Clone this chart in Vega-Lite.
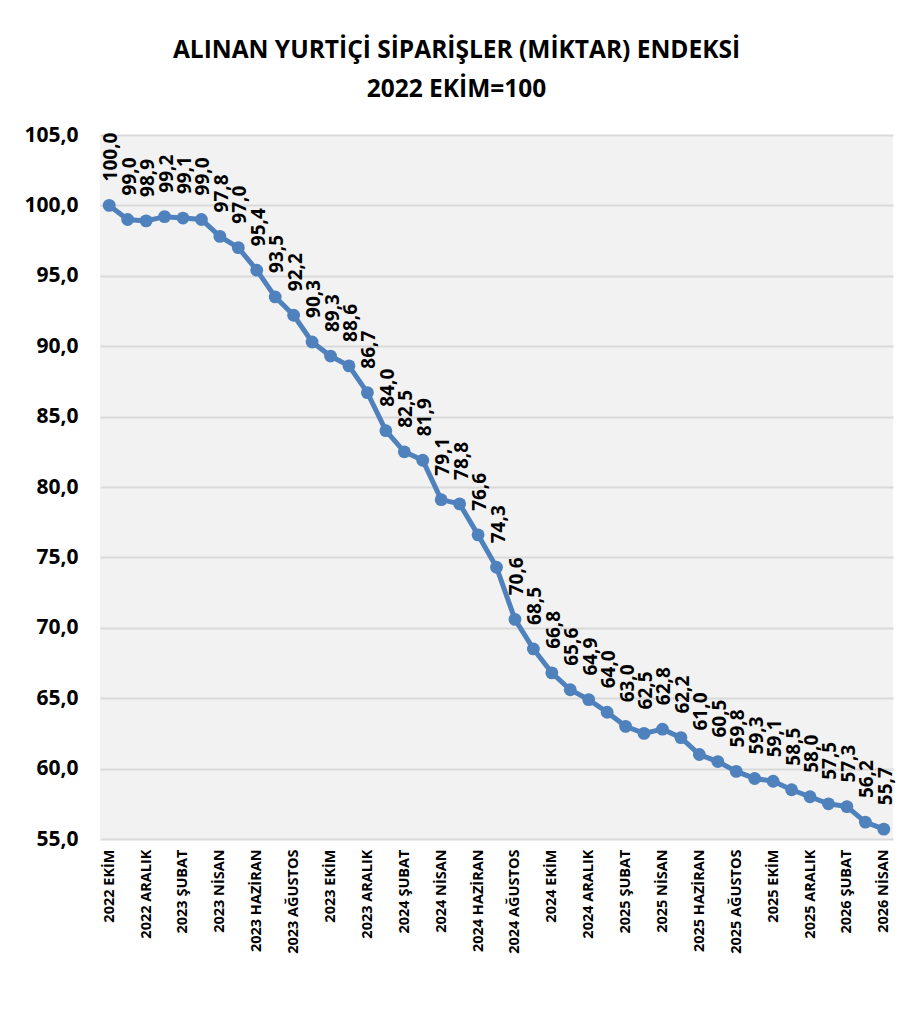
{
  "$schema": "https://vega.github.io/schema/vega-lite/v6.json",
  "autosize": {"type": "none"},
  "padding": {"left": 100, "top": 135, "right": 22, "bottom": 172},
  "width": 793,
  "height": 704,
  "background": "white",
  "title": {
    "text": ["ALINAN YURTİÇİ SİPARİŞLER (MİKTAR) ENDEKSİ", "2022 EKİM=100"],
    "anchor": "middle",
    "frame": "group",
    "dx": -40,
    "offset": 22,
    "font": "Open Sans",
    "fontSize": 24.5,
    "fontWeight": "bold",
    "color": "black",
    "lineHeight": 39
  },
  "config": {
    "locale": {"number": {"decimal": ",", "thousands": ".", "grouping": [3], "currency": ["", " TL"]}},
    "view": {"fill": "#f2f2f2", "stroke": null}
  },
  "data": {"values": [
    {"ay": "2022 EKİM", "v": 100.0},
    {"ay": "2022 KASIM", "v": 99.0},
    {"ay": "2022 ARALIK", "v": 98.9},
    {"ay": "2023 OCAK", "v": 99.2},
    {"ay": "2023 ŞUBAT", "v": 99.1},
    {"ay": "2023 MART", "v": 99.0},
    {"ay": "2023 NİSAN", "v": 97.8},
    {"ay": "2023 MAYIS", "v": 97.0},
    {"ay": "2023 HAZİRAN", "v": 95.4},
    {"ay": "2023 TEMMUZ", "v": 93.5},
    {"ay": "2023 AĞUSTOS", "v": 92.2},
    {"ay": "2023 EYLÜL", "v": 90.3},
    {"ay": "2023 EKİM", "v": 89.3},
    {"ay": "2023 KASIM", "v": 88.6},
    {"ay": "2023 ARALIK", "v": 86.7},
    {"ay": "2024 OCAK", "v": 84.0},
    {"ay": "2024 ŞUBAT", "v": 82.5},
    {"ay": "2024 MART", "v": 81.9},
    {"ay": "2024 NİSAN", "v": 79.1},
    {"ay": "2024 MAYIS", "v": 78.8},
    {"ay": "2024 HAZİRAN", "v": 76.6},
    {"ay": "2024 TEMMUZ", "v": 74.3},
    {"ay": "2024 AĞUSTOS", "v": 70.6},
    {"ay": "2024 EYLÜL", "v": 68.5},
    {"ay": "2024 EKİM", "v": 66.8},
    {"ay": "2024 KASIM", "v": 65.6},
    {"ay": "2024 ARALIK", "v": 64.9},
    {"ay": "2025 OCAK", "v": 64.0},
    {"ay": "2025 ŞUBAT", "v": 63.0},
    {"ay": "2025 MART", "v": 62.5},
    {"ay": "2025 NİSAN", "v": 62.8},
    {"ay": "2025 MAYIS", "v": 62.2},
    {"ay": "2025 HAZİRAN", "v": 61.0},
    {"ay": "2025 TEMMUZ", "v": 60.5},
    {"ay": "2025 AĞUSTOS", "v": 59.8},
    {"ay": "2025 EYLÜL", "v": 59.3},
    {"ay": "2025 EKİM", "v": 59.1},
    {"ay": "2025 KASIM", "v": 58.5},
    {"ay": "2025 ARALIK", "v": 58.0},
    {"ay": "2026 OCAK", "v": 57.5},
    {"ay": "2026 ŞUBAT", "v": 57.3},
    {"ay": "2026 MART", "v": 56.2},
    {"ay": "2026 NİSAN", "v": 55.7}
  ]},
  "encoding": {
    "x": {
      "field": "ay", "type": "ordinal", "sort": null,
      "scale": {"type": "point", "padding": 0.5},
      "axis": {
        "title": null, "domain": false, "ticks": false,
        "labelAngle": 270, "labelAlign": "right", "labelBaseline": "middle",
        "labelPadding": 10, "labelFont": "Open Sans", "labelFontSize": 14.5,
        "labelFontWeight": "bold", "labelColor": "black",
        "values": ["2022 EKİM", "2022 ARALIK", "2023 ŞUBAT", "2023 NİSAN", "2023 HAZİRAN", "2023 AĞUSTOS", "2023 EKİM", "2023 ARALIK", "2024 ŞUBAT", "2024 NİSAN", "2024 HAZİRAN", "2024 AĞUSTOS", "2024 EKİM", "2024 ARALIK", "2025 ŞUBAT", "2025 NİSAN", "2025 HAZİRAN", "2025 AĞUSTOS", "2025 EKİM", "2025 ARALIK", "2026 ŞUBAT", "2026 NİSAN"]
      }
    },
    "y": {
      "field": "v", "type": "quantitative",
      "scale": {"domain": [55, 105], "nice": false, "zero": false},
      "axis": {
        "title": null, "domain": false, "ticks": false,
        "values": [55, 60, 65, 70, 75, 80, 85, 90, 95, 100, 105],
        "format": ".1f",
        "labelPadding": 22, "labelFont": "Open Sans", "labelFontSize": 21,
        "labelFontWeight": "bold", "labelColor": "black",
        "gridColor": "#d9d9d9", "gridWidth": 2
      }
    }
  },
  "layer": [
    {"mark": {"type": "line", "color": "#4f81bd", "strokeWidth": 5}},
    {"mark": {"type": "point", "shape": "circle", "filled": true, "color": "#4f81bd", "size": 165, "opacity": 1}},
    {
      "mark": {"type": "text", "angle": 270, "align": "left", "baseline": "middle", "dx": 24, "dy": 2, "font": "Open Sans", "fontSize": 19, "fontWeight": "bold", "color": "black"},
      "encoding": {"text": {"field": "v", "type": "quantitative", "format": ".1f"}}
    }
  ]
}
